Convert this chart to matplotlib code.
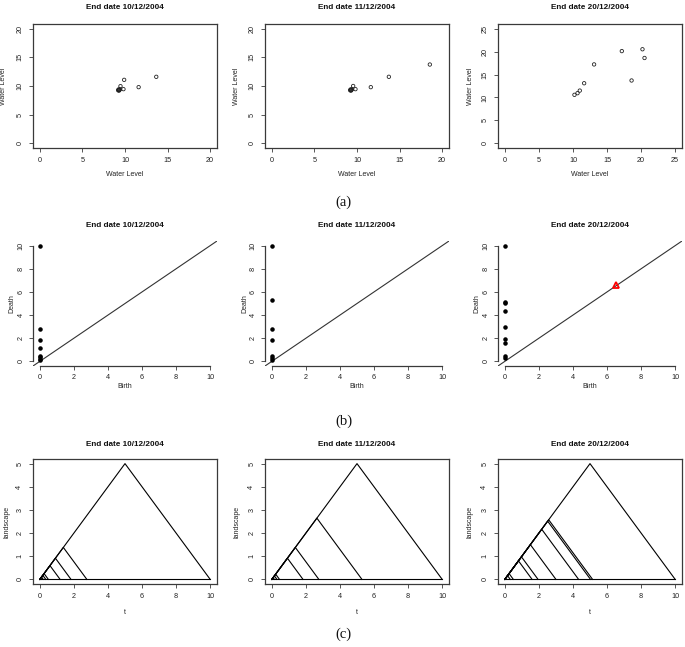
import matplotlib
matplotlib.use("Agg")
import matplotlib.pyplot as plt

W, H = 685, 647
titles = ["End date 10/12/2004", "End date 11/12/2004", "End date 20/12/2004"]

# ---- Row (a): delay-embedded point clouds ----
cloud1_x = [9.2, 9.25, 9.3, 9.35, 9.3, 9.4, 9.25, 9.47, 9.82, 9.9, 11.6, 13.67]
cloud1_y = [9.25, 9.3, 9.2, 9.35, 9.3, 9.4, 9.4, 9.97, 9.45, 11.07, 9.8, 11.6]
cloud2_x = [9.2, 9.25, 9.3, 9.35, 9.3, 9.4, 9.25, 9.55, 9.82, 11.62, 13.74, 18.55]
cloud2_y = [9.25, 9.3, 9.2, 9.35, 9.3, 9.4, 9.4, 10.0, 9.45, 9.8, 11.6, 13.74]
cloud3_x = [10.22, 10.67, 11.0, 11.64, 13.1, 17.17, 18.6, 20.2, 20.5]
cloud3_y = [10.58, 10.94, 11.5, 13.1, 17.2, 20.1, 13.7, 20.5, 18.6]
clouds = [(cloud1_x, cloud1_y), (cloud2_x, cloud2_y), (cloud3_x, cloud3_y)]
cloud_lims = [20, 20, 25]
cloud_ticks = [[0, 5, 10, 15, 20], [0, 5, 10, 15, 20], [0, 5, 10, 15, 20, 25]]

# ---- Row (b): persistence diagrams (dimension 0: birth 0) ----
death0_1 = [10.0, 2.76, 1.83, 1.19, 0.5, 0.35, 0.2, 0.1]
death0_2 = [10.0, 5.29, 2.76, 1.83, 0.45, 0.3, 0.15]
death0_3 = [10.0, 5.15, 5.03, 4.33, 3.0, 1.95, 1.6, 0.5, 0.32]
deaths0 = [death0_1, death0_2, death0_3]
h1_birth = [[], [], [6.5]]
h1_death = [[], [], [6.63]]
diag_ticks = [0, 2, 4, 6, 8, 10]

# ---- Row (c): landscape axes ----
land_xticks = [0, 2, 4, 6, 8, 10]
land_yticks = [0, 1, 2, 3, 4, 5]

fig = plt.figure(figsize=(W / 100, H / 100), dpi=100)
plt.rcParams["font.family"] = ["Liberation Sans", "DejaVu Sans"]

col_left = [33, 265, 498]
col_w = 184
rows = {"a": (24, 148), "b": (241, 366), "c": (459, 584)}
AX_COL = "#3a3a3a"
TXT = "#222222"
TFS = 5.2


def make_ax(col, row):
    top, bot = rows[row]
    return fig.add_axes([col_left[col] / W, 1 - bot / H, col_w / W, (bot - top) / H])


def style(ax, row, title, xlabel, ylabel, title_y, xlab_y, ylab_dx, tick_pad_x, tick_pad_y):
    top, bot = rows[row]
    h = bot - top
    ax.set_title(title, fontsize=5.9, fontweight="bold", y=(bot - title_y) / h, va="center",
                 color="#111111", pad=0)
    ax.set_xlabel(xlabel, fontsize=5.0, va="center", color=TXT)
    ax.xaxis.set_label_coords(0.5, (bot - xlab_y) / h)
    ax.set_ylabel(ylabel, fontsize=5.0, va="center", color=TXT)
    ax.yaxis.set_label_coords(ylab_dx / col_w, 0.5)
    ax.tick_params(axis="both", labelsize=TFS, length=3, width=0.6, colors=AX_COL, labelcolor=TXT, direction="out")
    ax.tick_params(axis="x", pad=tick_pad_x)
    ax.tick_params(axis="y", pad=tick_pad_y, labelrotation=90)
    for lab in ax.get_yticklabels():
        lab.set_va("center")
    for s in ax.spines.values():
        s.set_color(AX_COL)
        s.set_linewidth(0.9)


# Row (a)
for i in range(3):
    ax = make_ax(i, "a")
    x, y = clouds[i]
    ax.scatter(x, y, s=6, facecolors="none", edgecolors="#222222", linewidths=0.6)
    L = cloud_lims[i]
    ax.set_xlim(-0.04 * L, L * 1.04)
    ax.set_ylim(-0.04 * L, L * 1.04)
    ax.set_xticks(cloud_ticks[i])
    ax.set_yticks(cloud_ticks[i])
    style(ax, "a", titles[i], "Water Level", "Water Level", 7.5, 175, -29 if i == 0 else -28, 3.6, 3.8)

# Row (b)
for i in range(3):
    ax = make_ax(i, "b")
    d = deaths0[i]
    ax.plot([-1, 11], [-1, 11], color="#333333", lw=0.8, clip_on=True)
    ax.scatter([0] * len(d), d, s=5, color="black", zorder=3)
    if h1_birth[i]:
        ax.plot(h1_birth[i], h1_death[i], marker="^", ms=4, mfc="none", mec="red", mew=1.3, ls="none", zorder=4)
    ax.set_xlim(-0.4, 10.4)
    ax.set_ylim(-0.4, 10.4)
    ax.set_xticks(diag_ticks)
    ax.set_yticks(diag_ticks)
    ax.spines["top"].set_visible(False)
    ax.spines["right"].set_visible(False)
    style(ax, "b", titles[i], "Birth", "Death", 225.7, 387, -21 if i != 1 else -20, 2.8, 3.2)
    ax.spines["left"].set_bounds(0, 10)
    ax.spines["bottom"].set_bounds(0, 10)

# Row (c): landscapes built from the dimension-0 diagrams
for i in range(3):
    ax = make_ax(i, "c")
    ax.plot([0, 10], [0, 0], color="black", lw=0.8)
    for dv in deaths0[i]:
        b = 0.0
        ax.plot([b, (b + dv) / 2, dv], [0, (dv - b) / 2, 0], color="black", lw=0.8)
    ax.set_xlim(-0.4, 10.4)
    ax.set_ylim(-0.2, 5.2)
    ax.set_xticks(land_xticks)
    ax.set_yticks(land_yticks)
    style(ax, "c", titles[i], "t", "landscape", 444, 612, -26 if i == 0 else -28, 3.4, 4.0)

for lab, yy in (("(a)", 202), ("(b)", 421), ("(c)", 634)):
    fig.text(0.502, 1 - yy / H, lab, ha="center", va="center", fontsize=10.5,
             family=["Liberation Serif", "DejaVu Serif"], color="#111111")

fig.savefig("out.png", dpi=100, facecolor="white")
